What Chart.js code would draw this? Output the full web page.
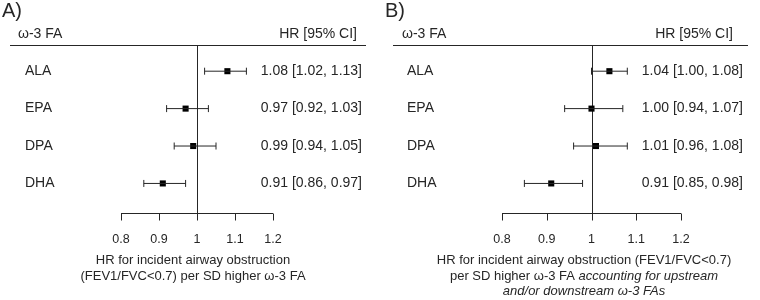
<!DOCTYPE html>
<html>
<head>
<meta charset="utf-8">
<script src="https://cdn.jsdelivr.net/npm/chart.js@4.4.1/dist/chart.umd.min.js"></script>
<style>
  body { margin:0; background:#fff; }
  .panel { position:absolute; top:0; width:380px; height:300px; }
  #wrapA { left:0; }
  #wrapB { left:380px; }
</style>
</head>
<body>
<div class="panel" id="wrapA"><canvas id="chartA" width="380" height="300"></canvas></div>
<div class="panel" id="wrapB"><canvas id="chartB" width="380" height="300"></canvas></div>
<script>
// forest plot data
const rows = ['ALA', 'EPA', 'DPA', 'DHA'];

const hrA = [1.08, 0.97, 0.99, 0.91];
const loA = [1.02, 0.92, 0.94, 0.86];
const hiA = [1.13, 1.03, 1.05, 0.97];

const hrB = [1.04, 1.00, 1.01, 0.91];
const loB = [1.00, 0.94, 0.96, 0.85];
const hiB = [1.08, 1.07, 1.08, 0.98];

const tickVals = [0.8, 0.9, 1, 1.1, 1.2];
const tickLabels = ['0.8', '0.9', '1', '1.1', '1.2'];

const titleA = [
  [{t:'HR for incident airway obstruction'}],
  [{t:'(FEV1/FVC<0.7) per SD higher ω-3 FA'}]
];
const titleB = [
  [{t:'HR for incident airway obstruction (FEV1/FVC<0.7)'}],
  [{t:'per SD higher ω-3 FA '}, {t:'accounting for upstream', i:true}],
  [{t:'and/or downstream ω-3 FAs', i:true}]
];

const FONT = "'Liberation Sans', Arial, sans-serif";
const INK = '#262626';

const fmt = v => v.toFixed(2);

function forestPlugin(cfg){
  return {
    id: 'forest' + cfg.letter,
    beforeDatasetsDraw(chart){
      const {ctx, chartArea, scales:{x}} = chart;
      ctx.save();
      ctx.strokeStyle = INK;
      ctx.lineWidth = 1;
      // header rule
      ctx.beginPath();
      ctx.moveTo(cfg.ruleL, chartArea.top + 0.5);
      ctx.lineTo(cfg.ruleR, chartArea.top + 0.5);
      ctx.stroke();
      // reference line at HR = 1
      const x1 = Math.round(x.getPixelForValue(1)) + 0.5;
      ctx.beginPath();
      ctx.moveTo(x1, chartArea.top);
      ctx.lineTo(x1, chartArea.bottom);
      ctx.stroke();
      // bottom axis
      const yb = Math.round(chartArea.bottom) + 0.5;
      ctx.beginPath();
      ctx.moveTo(x.getPixelForValue(tickVals[0]), yb);
      ctx.lineTo(x.getPixelForValue(tickVals[tickVals.length - 1]), yb);
      tickVals.forEach(v => {
        const px = Math.round(x.getPixelForValue(v)) + 0.5;
        ctx.moveTo(px, yb);
        ctx.lineTo(px, yb + 7);
      });
      ctx.stroke();
      ctx.restore();
    },
    afterDraw(chart){
      const {ctx, chartArea, scales:{x, y}} = chart;
      ctx.save();
      ctx.fillStyle = INK;
      // panel letter
      ctx.font = '20px ' + FONT;
      ctx.textAlign = 'left';
      ctx.textBaseline = 'alphabetic';
      ctx.fillText(cfg.letter + ')', cfg.letterX, 17);
      // headers
      ctx.font = '14px ' + FONT;
      ctx.fillText('ω-3 FA', cfg.headL, 38);
      ctx.textAlign = 'right';
      ctx.fillText('HR [95% CI]', cfg.headR, 38);
      // row labels and estimates
      ctx.font = '14px ' + FONT;
      ctx.textBaseline = 'middle';
      rows.forEach((r, i) => {
        const py = y.getPixelForValue(i);
        ctx.textAlign = 'left';
        ctx.fillText(r, cfg.labelX, py);
        ctx.textAlign = 'right';
        ctx.fillText(fmt(cfg.hr[i]) + ' [' + fmt(cfg.lo[i]) + ', ' + fmt(cfg.hi[i]) + ']', cfg.textR, py);
      });
      // tick labels
      ctx.font = '12.5px ' + FONT;
      ctx.textAlign = 'center';
      ctx.textBaseline = 'alphabetic';
      tickVals.forEach((v, i) => {
        ctx.fillText(tickLabels[i], x.getPixelForValue(v), 243);
      });
      // axis title, mixed upright / italic
      ctx.textAlign = 'left';
      cfg.title.forEach((line, li) => {
        const fonts = line.map(s => (s.i ? 'italic ' : '') + '13px ' + FONT);
        let w = 0;
        line.forEach((s, k) => { ctx.font = fonts[k]; w += ctx.measureText(s.t).width; });
        let px = cfg.titleC - w / 2;
        line.forEach((s, k) => {
          ctx.font = fonts[k];
          ctx.fillText(s.t, px, 264 + li * 15.5);
          px += ctx.measureText(s.t).width;
        });
      });
      ctx.restore();
    }
  };
}

function makeForest(id, cfg){
  const ciSets = rows.map((r, i) => ({
    type: 'line',
    data: [{x: cfg.lo[i], y: i}, {x: cfg.hi[i], y: i}],
    borderColor: INK,
    borderWidth: 1,
    pointStyle: 'line',
    pointRotation: 90,
    pointRadius: 3.5,
    pointBorderColor: INK,
    pointBorderWidth: 1,
    clip: false
  }));
  const estSet = {
    type: 'scatter',
    data: cfg.hr.map((v, i) => ({x: v, y: i})),
    pointStyle: 'rect',
    pointRadius: 4.3,
    backgroundColor: '#000',
    borderColor: '#000',
    borderWidth: 0,
    clip: false
  };
  return new Chart(document.getElementById(id), {
    type: 'scatter',
    data: { datasets: [...ciSets, estSet] },
    options: {
      responsive: false,
      animation: false,
      layout: { padding: { top: 45, bottom: 87, left: cfg.padL, right: cfg.padR } },
      plugins: { legend: {display: false}, tooltip: {enabled: false} },
      scales: {
        x: { type: 'linear', min: 0.8, max: 1.2, display: false },
        y: { type: 'linear', min: -0.7, max: 3.79, reverse: true, display: false }
      }
    },
    plugins: [forestPlugin(cfg)]
  });
}

makeForest('chartA', {
  letter: 'A', letterX: 2, headL: 18, headR: 357, ruleL: 10, ruleR: 366,
  labelX: 25, textR: 362, titleC: 193, padL: 121, padR: 107,
  hr: hrA, lo: loA, hi: hiA, title: titleA
});
makeForest('chartB', {
  letter: 'B', letterX: 5, headL: 22, headR: 353, ruleL: 13, ruleR: 368,
  labelX: 27, textR: 363, titleC: 204, padL: 122, padR: 79,
  hr: hrB, lo: loB, hi: hiB, title: titleB
});
</script>
</body>
</html>
